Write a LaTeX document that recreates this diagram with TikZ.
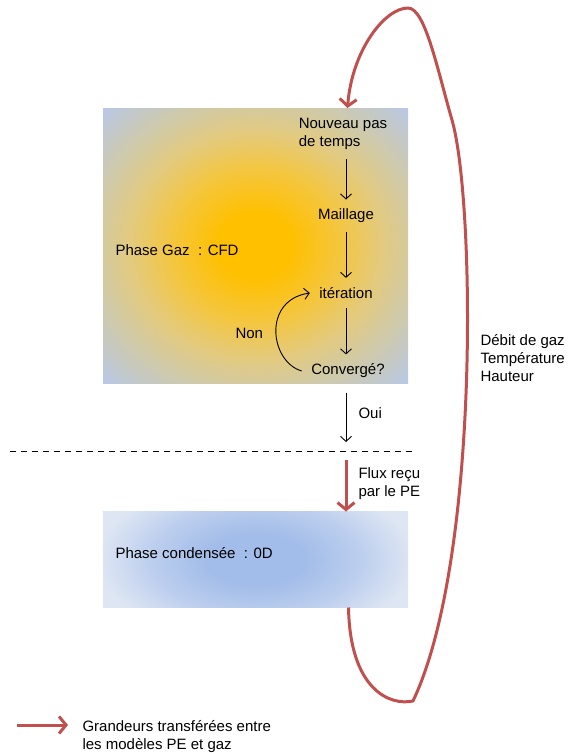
\documentclass[tikz,border=0pt]{standalone}
\usepackage{fontspec}
\setmainfont{Liberation Sans}
\usetikzlibrary{arrows.meta, positioning, calc}
\definecolor{cred}{HTML}{C0504D}
\definecolor{cgold}{HTML}{FFC000}
\definecolor{camber}{HTML}{F4C640}
\definecolor{ctan}{HTML}{E2CA80}
\definecolor{cgrey}{HTML}{D2CAA4}
\definecolor{cmist}{HTML}{B8C8E6}
\definecolor{cblue}{HTML}{A2BDE9}
\definecolor{cmid}{HTML}{BCCEEE}
\definecolor{cpale}{HTML}{DEE6F3}
\pgfdeclareradialshading{gazglow}{\pgfpointorigin}{%
  color(0bp)=(cgold); color(12bp)=(cgold); color(28bp)=(camber);
  color(42bp)=(ctan); color(52bp)=(cgrey); color(71bp)=(cmist)}
\pgfdeclareradialshading{condglow}{\pgfpointorigin}{%
  color(0bp)=(cblue); color(16bp)=(cblue); color(34bp)=(cmid); color(52bp)=(cpale); color(71bp)=(cpale)}
\tikzset{
  every picture/.style={font=\fontsize{15}{18}\selectfont, line width=1pt},
  phase/.style={inner sep=0pt, minimum width=304pt},
  glow/.style={inner sep=0pt, outer sep=0pt},
  flow/.style={inner sep=9pt},
  lbl/.style={inner sep=0pt, anchor=west, align=left},
  arr/.style={-{Straight Barb[length=5pt, width=11pt]}, line width=0.9pt},
  transfer/.style={draw=cred, line width=3pt, line join=round, -{Straight Barb[length=7pt, width=17pt]}},
  divider/.style={dash pattern=on 6pt off 5pt, line width=0.9pt},
}

\begin{document}
\begin{tikzpicture}[x=1pt, y=-1pt]
  \useasboundingbox (0,0) rectangle (569,753);
  % gas phase (CFD) and condensed phase (0D)
  \node[phase, minimum height=274pt] (gaz) at (255.5,245.5) {};
  \node[phase, minimum height=95pt] (cond) at (255.5,559.5) {};
  \begin{scope}
    \clip (gaz.north west) rectangle (gaz.south east);
    \node[glow] (gazfill) at (gaz.center) {\scalebox{3.03}[2.73]{\pgfuseshading{gazglow}}};
  \end{scope}
  \begin{scope}
    \clip (cond.north west) rectangle (cond.south east);
    \node[glow] (condfill) at (cond.center) {\scalebox{3.03}[1.6]{\pgfuseshading{condglow}}};
  \end{scope}
  \node[lbl] (gazlbl) at (115,250) {Phase Gaz\ \ : CFD};
  \node[lbl] (condlbl) at (115,553) {Phase condensée\ \ : 0D};
  % time step loop
  \node[flow, align=left] (nouveau) at (343,134) {Nouveau pas\\de temps};
  \foreach \n/\x/\y/\t in {maillage/346/216/Maillage, iter/346/293/itération, conv/348/371/Convergé?}
    \node[flow] (\n) at (\x,\y) {\t};
  \foreach \a/\b in {nouveau/maillage, maillage/iter, iter/conv}
    \draw[arr] (\a.south -| iter) -- (\b.north -| iter);
  \draw[arr] (conv.west) .. controls (270,362) and (262,300) .. (iter.west);
  \node[lbl] (non) at (235,333) {Non};
  \coordinate (ouiend) at (346,442);
  \draw[arr, shorten <=5pt] (conv.south -| iter) -- (ouiend);
  \node[lbl] (oui) at (358,413) {Oui};
  \draw[divider] (10,451) -- (416,451);
  \coordinate (fluxtop) at (346,460);
  \draw[transfer] (fluxtop) -- (fluxtop |- cond.north);
  \node[lbl] (flux) at (358,484) {Flux reçu\\par le PE};
  % quantities sent back to the gas model
  \draw[transfer] ([xshift=93pt]cond.south) .. controls (350,690) and (390,706) .. (413,701)
    .. controls (480,560) and (475,200) .. (452,120) .. controls (437,68) and (425,8) .. (408,8)
    .. controls (385,8) and (352,50) .. ([xshift=92pt]gaz.north);
  \node[lbl] (quant) at (480,358) {Débit de gaz\\Température\\Hauteur};
  % legend
  \node[lbl] (legend) at (82,737) {Grandeurs transférées entre\\les modèles PE et gaz};
  \coordinate (legtail) at (17,725);
  \draw[transfer, shorten >=14pt] (legtail) -- (legtail -| legend.west);
\end{tikzpicture}
\end{document}
